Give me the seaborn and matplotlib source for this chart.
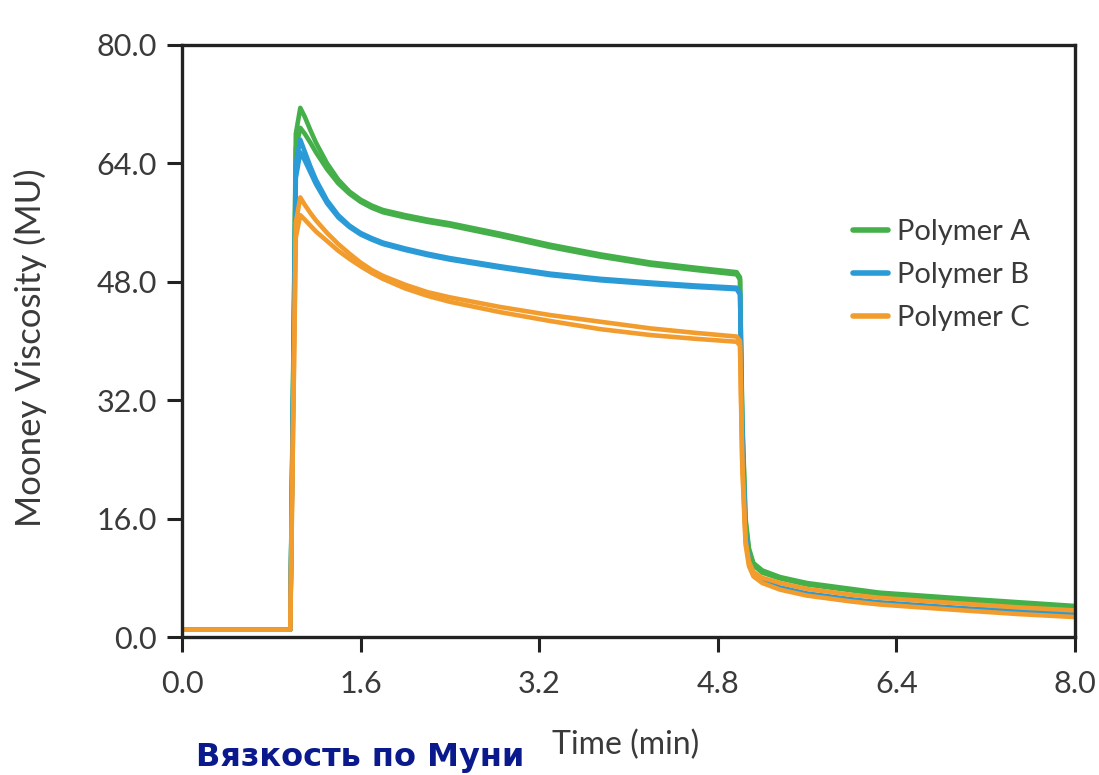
import numpy as np
import pandas as pd
import seaborn as sns
import matplotlib.pyplot as plt
from matplotlib.ticker import FormatStrFormatter

# Time axis shared by all runs (min)
time = [0, 0.97, 1.02, 1.06, 1.1, 1.15, 1.2, 1.3, 1.4, 1.5, 1.6, 1.7, 1.8, 2.0, 2.2, 2.4,
        2.85, 3.3, 3.75, 4.2, 4.6, 4.97, 5.0, 5.02, 5.05, 5.08, 5.12, 5.2, 5.36, 5.6,
        6.0, 6.25, 7.0, 7.5, 8.0]

# Mooney viscosity (MU), two runs per polymer
polymer_a_run1 = [1, 1, 68, 71.5, 70.3, 68.5, 66.8, 64.0, 61.8, 60.2, 59.1, 58.3, 57.7, 57.0,
                  56.4, 55.9, 54.5, 53.0, 51.7, 50.6, 49.9, 49.3, 48.6, 30, 16, 12, 10, 9.0,
                  8.1, 7.3, 6.5, 6.0, 5.2, 4.7, 4.2]
polymer_a_run2 = [1, 1, 66, 68.8, 68.0, 66.8, 65.5, 63.2, 61.3, 59.9, 58.8, 58.0, 57.4, 56.7,
                  56.1, 55.6, 54.2, 52.7, 51.4, 50.3, 49.6, 49.0, 48.3, 29, 15.5, 11.6, 9.7,
                  8.7, 7.9, 7.1, 6.3, 5.8, 5.0, 4.5, 4.0]
polymer_b_run1 = [1, 1, 64, 67.2, 65.6, 63.6, 61.8, 59.0, 57.0, 55.6, 54.6, 53.9, 53.3, 52.5,
                  51.8, 51.2, 50.1, 49.1, 48.4, 47.9, 47.5, 47.2, 46.5, 28, 14, 10.3, 8.6,
                  7.7, 6.7, 5.9, 5.1, 4.7, 3.9, 3.5, 3.2]
polymer_b_run2 = [1, 1, 62, 65.5, 64.4, 62.8, 61.2, 58.6, 56.7, 55.4, 54.4, 53.7, 53.1, 52.3,
                  51.6, 51.0, 49.9, 48.9, 48.2, 47.7, 47.3, 47.0, 46.3, 27, 13.5, 10.0, 8.4,
                  7.5, 6.6, 5.8, 5.0, 4.6, 3.8, 3.4, 3.1]
polymer_c_run1 = [1, 1, 56, 59.4, 58.4, 57.3, 56.3, 54.6, 53.1, 51.8, 50.6, 49.6, 48.8, 47.6,
                  46.6, 45.9, 44.6, 43.5, 42.6, 41.7, 41.1, 40.6, 40.0, 24, 13, 10.2, 8.8,
                  8.0, 7.3, 6.5, 5.7, 5.3, 4.5, 4.0, 3.6]
polymer_c_run2 = [1, 1, 54, 57.0, 56.4, 55.6, 54.8, 53.5, 52.2, 51.1, 50.1, 49.2, 48.4, 47.1,
                  46.1, 45.3, 43.9, 42.7, 41.6, 40.8, 40.3, 39.9, 39.4, 23, 12.5, 9.6, 8.2,
                  7.3, 6.4, 5.6, 4.8, 4.4, 3.6, 3.1, 2.7]

polymers = ["Polymer A", "Polymer B", "Polymer C"]
colors = ["#45b04a", "#2a9bd6", "#f39c2e"]
runs = {
    "Polymer A": [polymer_a_run1, polymer_a_run2],
    "Polymer B": [polymer_b_run1, polymer_b_run2],
    "Polymer C": [polymer_c_run1, polymer_c_run2],
}

rows = []
for name in polymers:
    for k, vals in enumerate(runs[name]):
        for t, v in zip(time, vals):
            rows.append({"time": t, "mu": v, "polymer": name, "run": k})
df = pd.DataFrame(rows)

sns.set_style("white")
plt.rcParams["font.family"] = ["Lato", "DejaVu Sans"]

fig = plt.figure(figsize=(10.99, 7.75), dpi=100)
ax = fig.add_axes([0.1656, 0.178, 0.8124, 0.764])

sns.lineplot(data=df, x="time", y="mu", hue="polymer", units="run", estimator=None,
             palette=dict(zip(polymers, colors)), linewidth=3.3, ax=ax, legend=False,
             sort=False)

ax.set_xlim(0, 8)
ax.set_ylim(0, 80)
ax.set_xticks([0, 1.6, 3.2, 4.8, 6.4, 8.0])
ax.set_yticks([0, 16, 32, 48, 64, 80])
ax.xaxis.set_major_formatter(FormatStrFormatter("%.1f"))
ax.yaxis.set_major_formatter(FormatStrFormatter("%.1f"))
ax.tick_params(axis="both", direction="out", length=11, width=2.2, labelsize=22,
               colors="#222222", labelcolor="#3a3a3a")
ax.tick_params(axis="x", pad=13)
ax.tick_params(axis="y", pad=7)
ax.tick_params(bottom=True, left=True)
for s in ax.spines.values():
    s.set_visible(True)
    s.set_linewidth(2.4)
    s.set_color("#222222")

ax.set_xlabel("")
ax.set_ylabel("")
fig.text(0.0273, 0.552, "Mooney Viscosity (MU)", fontsize=25, color="#3a3a3a",
         rotation=90, ha="center", va="center")
fig.text(0.5696, 0.0387, "Time (min)", fontsize=23, color="#3a3a3a", ha="center", va="center")

handles = [plt.Line2D([], [], color=c, lw=4) for c in colors]
ax.legend(handles, polymers, loc="upper left", bbox_to_anchor=(0.722, 0.75), frameon=False,
          fontsize=21, handlelength=1.2, handletextpad=0.3, labelspacing=0.58,
          labelcolor="#3a3a3a")

fig.text(0.178, 0.003, "Вязкость по Муни", fontsize=23, fontweight="bold",
         color="#0a1a8c", family=["DejaVu Sans"], ha="left", va="bottom")

plt.savefig("out.png", dpi=100)
plt.close()
